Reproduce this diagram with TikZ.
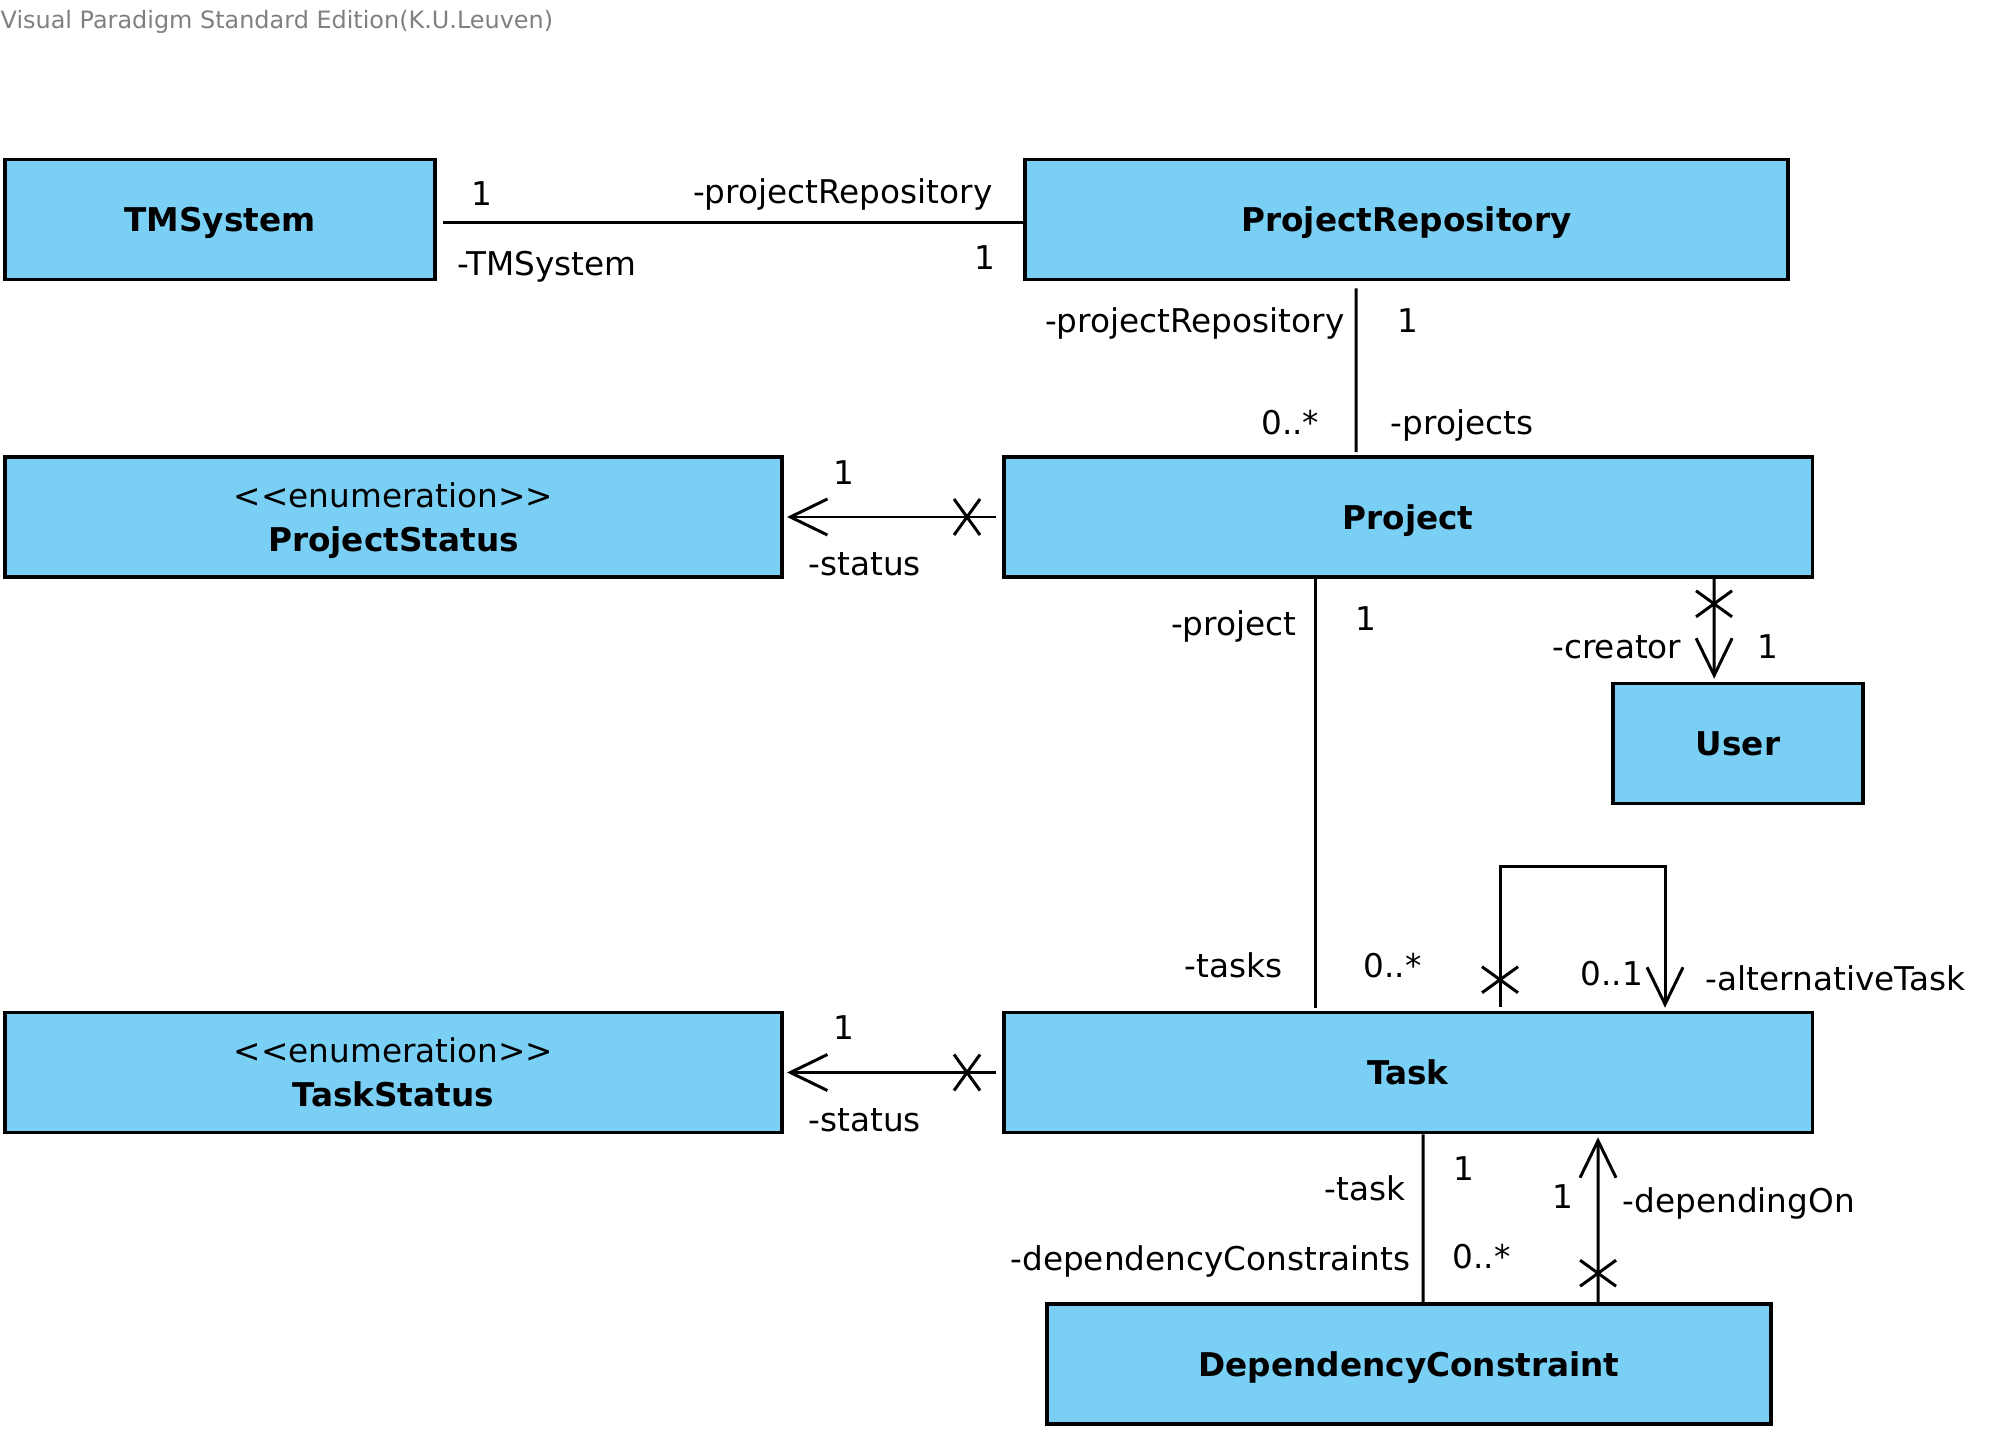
\documentclass[tikz,border=0pt]{standalone}
\usepackage{fontspec}
\setmainfont{DejaVu Sans}
\usepackage{xcolor}
\usepackage{tikz}
\usetikzlibrary{calc, arrows.meta}

\definecolor{vpblue}{HTML}{7ACFF5}
\definecolor{vpgray}{HTML}{808080}

\tikzset{
	umlclass/.style={draw, fill=vpblue, line width=1pt, inner sep=0pt, minimum height=1.2cm, text depth=0pt, align=center, font=\fontsize{9.3}{12.5}\selectfont\bfseries},
	assoc/.style={line width=0.85pt},
	navarrow/.style={assoc, -{Straight Barb[length=3.7mm, width=3.6mm]}},
	lbl/.style={inner sep=0pt, yshift=-0.3mm, text height=0.73em, text depth=0.2em, font=\fontsize{9.3}{11}\selectfont},
	navx/.pic={\draw [assoc] (-13,-18) -- (13,18) (-13,18) -- (13,-18);}
}

\begin{document}
\begin{tikzpicture}[x=0.01cm, y=-0.01cm]
		\useasboundingbox (0,0) rectangle (2001,1434);
		
		\node [anchor=west, inner sep=0pt, text=vpgray, font=\fontsize{6.8}{8}\selectfont] (vp) at (0,22) {Visual Paradigm Standard Edition(K.U.Leuven)};
		
		% classes
		\node [umlclass, minimum width=4.3cm] (tmsystem) at (220,219.5) {TMSystem};
		\node [umlclass, minimum width=7.63cm] (repo) at (1406.5,219.5) {ProjectRepository};
		\node [umlclass, minimum width=7.77cm] (pstatus) at (393.5,517) {{\mdseries <{}<enumeration>{}>}\\ProjectStatus};
		\node [umlclass, minimum width=8.08cm] (project) at (1408,517) {Project};
		\node [umlclass, minimum width=2.5cm] (user) at (1738,743.5) {User};
		\node [umlclass, minimum width=7.77cm] (tstatus) at (393.5,1072.5) {{\mdseries <{}<enumeration>{}>}\\TaskStatus};
		\node [umlclass, minimum width=8.08cm] (task) at (1408,1072.5) {Task};
		\node [umlclass, minimum width=7.24cm] (depcon) at (1409,1364) {DependencyConstraint};
		
		% TMSystem -- ProjectRepository
		\draw [assoc] ($(tmsystem.east)+(6,3.5)$) -- ($(repo.west)+(3,3.5)$);
		\node [lbl] (tmsMult) at (482,193) {1};
		\node [lbl, anchor=east] (repoRoleA) at (993,191) {-projectRepository};
		\node [lbl, anchor=west] (tmsRole) at (457,263) {-TMSystem};
		\node [lbl] (repoMultA) at (985,257) {1};
		
		% ProjectRepository -- Project
		\draw [assoc] ($(repo.south west)+(333,7)$) -- ($(project.north west)+(354,-3)$);
		\node [lbl, anchor=east] (repoRoleB) at (1345,320) {-projectRepository};
		\node [lbl] (repoMultB) at (1408,320) {1};
		\node [lbl, anchor=east] (projMultA) at (1320,422) {0..*};
		\node [lbl, anchor=west] (projRoleA) at (1390,422) {-projects};
		
		% Project -> ProjectStatus
		\draw [navarrow] ($(project.west)+(-6,0)$) -- ($(pstatus.east)+(3,0)$);
		\pic at ($(project.west)+(-35,0)$) {navx};
		\node [lbl] (psMult) at (844,472) {1};
		\node [lbl, anchor=west] (psRole) at (808,563) {-status};
		
		% Project -- Task
		\draw [assoc] ($(project.south west)+(313,0)$) -- ($(task.north west)+(313,-3)$);
		\node [lbl, anchor=east] (projRoleB) at (1297,623) {-project};
		\node [lbl] (projMultB) at (1366,618) {1};
		\node [lbl, anchor=east] (taskRoleA) at (1283,965) {-tasks};
		\node [lbl, anchor=west] (taskMultA) at (1363,965) {0..*};
		
		% Project -> User
		\draw [navarrow] ($(project.south west)+(712,0)$) -- ($(user.north west)+(103,-3)$);
		\pic [rotate=90] at ($(project.south west)+(712,25)$) {navx};
		\node [lbl, anchor=east] (userRole) at (1682,646) {-creator};
		\node [lbl] (userMult) at (1768,646) {1};
		
		% Task -> Task
		\draw [navarrow] ($(task.north west)+(498,-4)$) |- ($(task.north west)+(663,-144)$) -- ($(task.north west)+(663,-3)$);
		\pic [rotate=90] at ($(task.north west)+(498,-31)$) {navx};
		\node [lbl, anchor=west] (altMult) at (1580,973) {0..1};
		\node [lbl, anchor=west] (altRole) at (1705,978) {-alternativeTask};
		
		% Task -> TaskStatus
		\draw [navarrow] ($(task.west)+(-6,0)$) -- ($(tstatus.east)+(3,0)$);
		\pic at ($(task.west)+(-35,0)$) {navx};
		\node [lbl] (tsMult) at (844,1027) {1};
		\node [lbl, anchor=west] (tsRole) at (808,1119) {-status};
		
		% Task -- DependencyConstraint
		\draw [assoc] ($(task.south west)+(421,0)$) -- ($(depcon.north west)+(378,0)$);
		\node [lbl, anchor=east] (taskRoleB) at (1406,1188) {-task};
		\node [lbl] (taskMultB) at (1464,1168) {1};
		\node [lbl, anchor=east] (dcRole) at (1411,1258) {-dependencyConstraints};
		\node [lbl, anchor=west] (dcMult) at (1452,1256) {0..*};
		
		% DependencyConstraint -> Task
		\draw [navarrow] ($(depcon.north west)+(553,0)$) -- ($(task.south west)+(596,3)$);
		\pic [rotate=90] at ($(depcon.north west)+(553,-29)$) {navx};
		\node [lbl] (depMult) at (1563,1196) {1};
		\node [lbl, anchor=west] (depRole) at (1622,1200) {-dependingOn};
	\end{tikzpicture}
\end{document}
